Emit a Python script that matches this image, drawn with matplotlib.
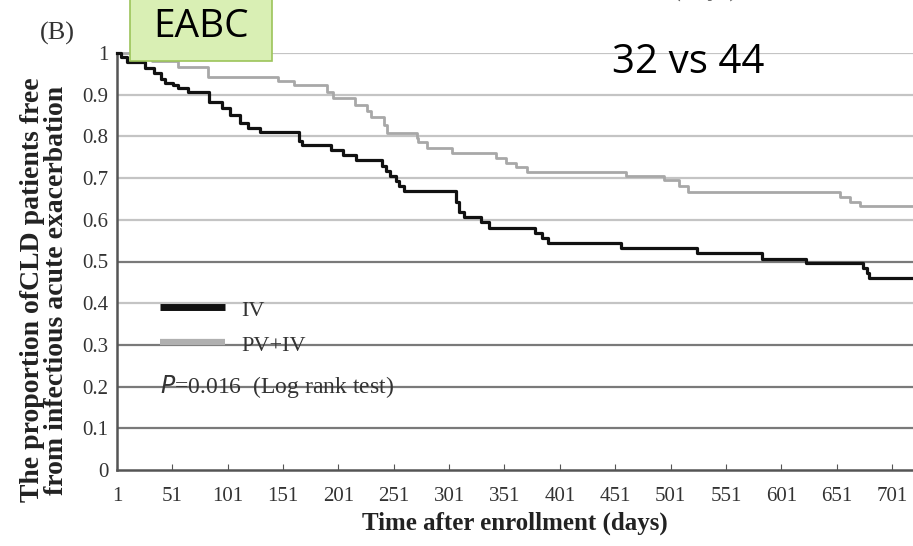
import numpy as np
import matplotlib.pyplot as plt
from matplotlib.patches import FancyBboxPatch

# Kaplan-Meier curves (days, proportion free)
iv_days = [1, 5, 10, 26, 34, 41, 44, 52, 56, 65, 84, 96, 103, 112, 119, 130, 165, 168,
           194, 205, 217, 240, 244, 248, 253, 256, 260, 307, 310, 314, 330, 337, 352,
           379, 385, 390, 456, 525, 584, 623, 675, 678, 680, 720]
iv_prop = [1.0, 0.99, 0.978, 0.965, 0.952, 0.938, 0.928, 0.923, 0.916, 0.906, 0.882, 0.868,
           0.851, 0.832, 0.82, 0.81, 0.79, 0.779, 0.767, 0.755, 0.743, 0.73, 0.718, 0.706,
           0.694, 0.682, 0.669, 0.643, 0.619, 0.607, 0.595, 0.58, 0.58, 0.568, 0.556, 0.544,
           0.532, 0.52, 0.506, 0.496, 0.484, 0.472, 0.46, 0.46]

pv_days = [1, 15, 33, 56, 83, 146, 161, 191, 196, 216, 227, 230, 242, 245, 272, 273, 281,
           304, 343, 352, 361, 371, 461, 495, 509, 517, 654, 663, 672, 720]
pv_prop = [1.0, 0.99, 0.98, 0.966, 0.942, 0.933, 0.923, 0.907, 0.892, 0.875, 0.86, 0.847,
           0.827, 0.808, 0.797, 0.787, 0.772, 0.76, 0.748, 0.736, 0.727, 0.715, 0.705, 0.695,
           0.68, 0.667, 0.655, 0.643, 0.633, 0.633]

x_ticks = [1, 51, 101, 151, 201, 251, 301, 351, 401, 451, 501, 551, 601, 651, 701]
y_ticks = [0, 0.1, 0.2, 0.3, 0.4, 0.5, 0.6, 0.7, 0.8, 0.9, 1]
y_labels = ['0', '0.1', '0.2', '0.3', '0.4', '0.5', '0.6', '0.7', '0.8', '0.9', '1']

serif = 'Liberation Serif'

fig = plt.figure(figsize=(9.13, 5.46), dpi=100)
ax = fig.add_axes([117 / 913, 1 - 470 / 546, 1 - 117 / 913, (470 - 53) / 546])

# grid lines: some darker than others in the scan
dark = [0.1, 0.2, 0.3, 0.5]
for v in y_ticks[1:]:
    c = '#7a7a7a' if v in dark else '#c4c4c4'
    ax.axhline(v, color=c, lw=1.6, zorder=1)

ax.step(pv_days, pv_prop, where='post', color='#a8a8a8', lw=2.0, zorder=3, clip_on=False)
ax.step(iv_days, iv_prop, where='post', color='#111111', lw=2.3, zorder=4, clip_on=False)

ax.set_xlim(1, 720)
ax.set_ylim(0, 1)
ax.set_xticks(x_ticks)
ax.set_xticklabels([str(t) for t in x_ticks], fontfamily=serif, fontsize=15, color='#333333')
ax.set_yticks(y_ticks)
ax.set_yticklabels(y_labels, fontfamily=serif, fontsize=15, color='#333333')
ax.tick_params(axis='x', direction='in', length=4, color='#555555', pad=12)
ax.tick_params(axis='y', length=0, pad=6)
for s in ['top', 'right']:
    ax.spines[s].set_visible(False)
for s in ['left', 'bottom']:
    ax.spines[s].set_color('#555555')
    ax.spines[s].set_linewidth(1.8)

ax.set_xlabel('Time after enrollment (days)', fontfamily=serif, fontsize=18,
              fontweight='bold', color='#222222', labelpad=4)
ax.set_ylabel('The proportion ofCLD patients free\nfrom infectious acute exacerbation',
              fontfamily=serif, fontsize=20, fontweight='bold', color='#222222',
              labelpad=6, linespacing=0.95)
ax.yaxis.set_label_coords(-48 / 796, (470 - 290) / 417)

# legend drawn by hand like the original
ax.plot([40, 99], [0.39, 0.39], color='#111111', lw=5, solid_capstyle='butt', zorder=5)
ax.plot([40, 99], [0.306, 0.306], color='#b0b0b0', lw=4.5, solid_capstyle='butt', zorder=5)
ax.text(113, 0.38, 'IV', fontfamily=serif, fontsize=16, color='#333333', va='center')
ax.text(113, 0.295, 'PV+IV', fontfamily=serif, fontsize=16, color='#333333', va='center')
ax.text(40, 0.2, r'$\it{P}$' + '=0.016  (Log rank test)', fontfamily=serif, fontsize=17,
        color='#333333', va='center')

fig.text(40 / 913, 1 - 33 / 546, '(B)', fontfamily=serif, fontsize=19, color='#333333',
         va='center')
# title of the panel above, mostly cropped away in the original
fig.text(585 / 913, 1 - 1 / 546, 'Time after enrollment (days)', fontfamily=serif,
         fontsize=18, fontweight='bold', color='#666666', ha='center', va='bottom')

# EABC label box
box = FancyBboxPatch((130 / 913, 1 - 61 / 546), 142 / 913, 64 / 546,
                     boxstyle='square,pad=0', transform=fig.transFigure,
                     facecolor='#d9efb4', edgecolor='#9cc45a', lw=1.2, zorder=10)
fig.patches.append(box)
fig.text(201 / 913, 1 - 27 / 546, 'EABC', fontfamily='Open Sans', fontsize=28,
         color='black', ha='center', va='center', zorder=11)

fig.text(688 / 913, 1 - 63 / 546, '32 vs 44', fontfamily='Open Sans', fontsize=29,
         color='black', ha='center', va='center')

fig.savefig('out.png', dpi=100)
